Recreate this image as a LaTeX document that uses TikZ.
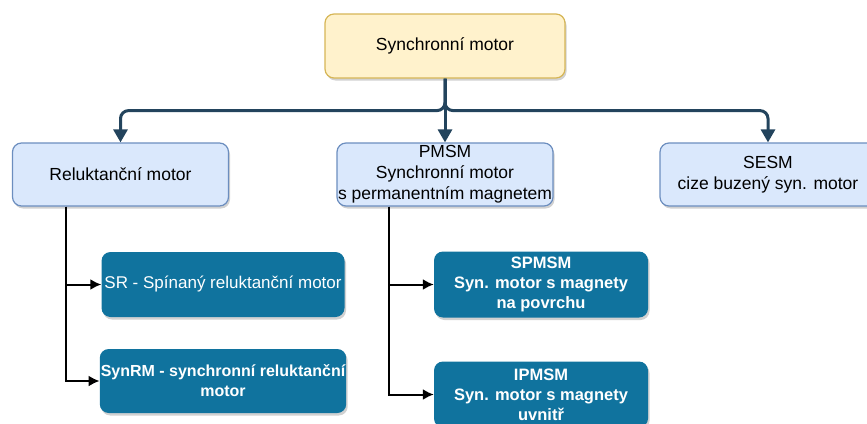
\documentclass[tikz,border=0pt]{standalone}
\usepackage{fontspec}
\setmainfont{Liberation Sans}
\usepackage{xcolor}
\usepackage{tikz}
\usetikzlibrary{arrows.meta, shapes, positioning, calc, shadows}

\definecolor{rootfill}{HTML}{FFF2CC}
\definecolor{rootline}{HTML}{D6B656}
\definecolor{famfill}{HTML}{DAE8FC}
\definecolor{famline}{HTML}{6C8EBF}
\definecolor{varfill}{HTML}{10739E}
\definecolor{busline}{HTML}{23445D}

\begin{document}
\begin{tikzpicture}[
        node distance=110pt,
        boxshadow/.style={drop shadow={shadow xshift=1.5pt, shadow yshift=-2.5pt, fill=black, opacity=0.18}},
        root/.style={rectangle, rounded corners=9pt, draw=rootline, line width=1.2pt, fill=rootfill, boxshadow, minimum width=240pt, minimum height=64pt, align=center, inner sep=1pt, font=\fontsize{17.5}{21}\selectfont},
        family/.style={rectangle, rounded corners=9pt, draw=famline, line width=1.2pt, fill=famfill, boxshadow, minimum width=216pt, minimum height=63pt, align=center, inner sep=1pt, font=\fontsize{17.5}{21}\selectfont},
        variant/.style={rectangle, rounded corners=9pt, fill=varfill, boxshadow, text=white, minimum width=214pt, minimum height=66pt, align=center, inner sep=1pt, font=\fontsize{16.5}{20}\selectfont\bfseries},
        bus/.style={line width=3pt, draw=busline, rounded corners=8pt, -{Triangle[length=13pt, width=14pt]}},
        branch/.style={line width=2pt, draw=black, -{Latex[length=11pt, width=11pt]}}
    ]
        \useasboundingbox (0,0) rectangle (867pt,-423pt);

        \node (top) [root] at (445pt,-46pt) {Synchronní motor};
        \node (pmsm) [family, below of=top, yshift=-18.5pt] {PMSM\\Synchronní motor\\s permanentním magnetem};
        \node (reluct) [family, left of=pmsm, xshift=-214.5pt] {Reluktanční motor};
        \node (sesm) [family, right of=pmsm, xshift=213pt] {SESM\\cize buzený syn. motor};

        \node (sr) [variant, below of=reluct, xshift=102.5pt, minimum width=243pt, minimum height=65pt, font=\fontsize{17}{21}\selectfont] {SR - Spínaný reluktanční motor};
        \node (synrm) [variant, below of=sr, yshift=13.5pt, minimum width=245pt, minimum height=64pt, font=\fontsize{16}{20}\selectfont\bfseries] {SynRM - synchronní reluktanční\\motor};
        \node (spmsm) [variant, below of=pmsm, xshift=96pt] {SPMSM\\Syn. motor s magnety\\na povrchu};
        \node (ipmsm) [variant, below of=spmsm] {IPMSM\\Syn. motor s magnety\\uvnitř};

        \draw [bus] (top.south) -- ++(0,-32pt) -| (reluct.north);
        \draw [bus] (top.south) -- ++(0,-32pt) -| (sesm.north);
        \draw [bus] (top.south) -- (pmsm.north);

        \draw [branch] ([xshift=54pt]reluct.south west) |- (sr.west);
        \draw [branch] ([xshift=54pt]reluct.south west) |- (synrm.west);
        \draw [branch] ([xshift=53pt]pmsm.south west) |- (spmsm.west);
        \draw [branch] ([xshift=53pt]pmsm.south west) |- (ipmsm.west);
    \end{tikzpicture}
\end{document}
